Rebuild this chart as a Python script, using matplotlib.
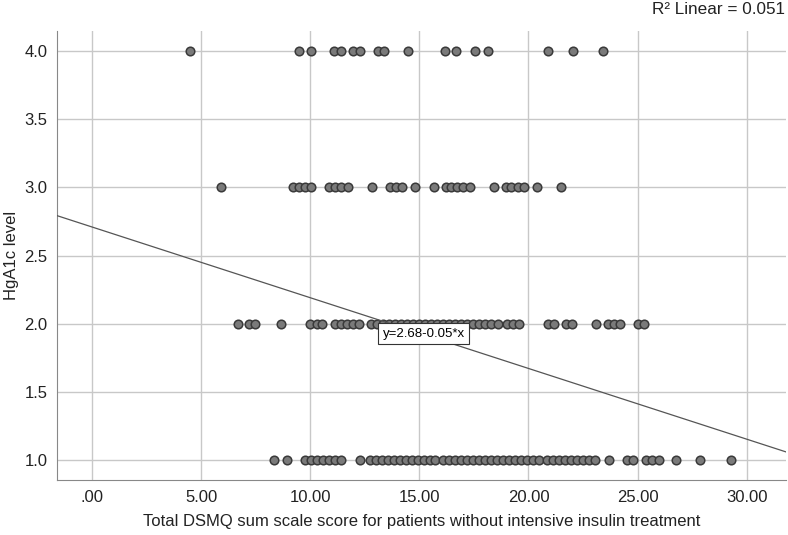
import numpy as np
import matplotlib.pyplot as plt

plt.rcParams['font.family'] = ['Liberation Sans', 'DejaVu Sans']

# DSMQ scores, per HgA1c level
x_lvl4 = [4.5, 9.5, 10.06, 11.1, 11.4, 11.97, 12.28, 13.12, 13.4, 14.5,
          16.18, 16.7, 17.57, 18.13, 20.9, 22.05, 23.4]
x_lvl3 = [5.9, 9.2, 9.5, 9.78, 10.06, 10.88, 11.16, 11.43, 11.71, 12.84,
          13.64, 13.94, 14.22, 14.8, 15.66, 16.2, 16.45, 16.73, 17.0, 17.3,
          18.4, 18.97, 19.2, 19.5, 19.8, 20.4, 21.5]
x_lvl2 = [6.68, 7.2, 7.48, 8.67, 10.01, 10.29, 10.56, 11.15, 11.42, 11.7,
          11.97, 12.25, 12.8, 13.08, 13.35, 13.63, 13.9, 14.18, 14.45, 14.73,
          15.0, 15.28, 15.55, 15.83, 16.1, 16.38, 16.65, 16.93, 17.2, 17.48,
          17.75, 18.03, 18.3, 18.6, 19.0, 19.3, 19.55, 20.9, 21.18, 21.73,
          22.0, 23.1, 23.66, 23.93, 24.2, 25.03, 25.3]
x_lvl1 = [8.36, 8.96, 9.77, 10.05, 10.32, 10.6, 10.88, 11.15, 11.43, 12.26,
          12.72, 13.0, 13.27, 13.55, 13.82, 14.1, 14.37, 14.65, 14.92, 15.2,
          15.47, 15.73, 16.1, 16.38, 16.65, 16.93, 17.2, 17.48, 17.75, 18.03,
          18.3, 18.58, 18.85, 19.13, 19.4, 19.68, 19.95, 20.23, 20.5, 20.86,
          21.14, 21.41, 21.69, 21.96, 22.24, 22.51, 22.79, 23.06, 23.7, 24.5,
          24.8, 25.37, 25.67, 25.98, 26.78, 27.86, 29.27]
levels = [4.0, 3.0, 2.0, 1.0]

# fit line as drawn, and its label
fit_b0 = 2.71
fit_b1 = -0.052
fit_label = 'y=2.68-0.05*x'
r2_label = 'R² Linear = 0.051'

x_ticks = [0, 5, 10, 15, 20, 25, 30]
y_ticks = [1.0, 1.5, 2.0, 2.5, 3.0, 3.5, 4.0]

fig = plt.figure(figsize=(7.88, 5.35), dpi=100)
ax = fig.add_axes([0.0723, 0.1028, 0.9252, 0.8392])

grid_col = '#c8c8c8'
for xs, lv in zip([x_lvl4, x_lvl3, x_lvl2, x_lvl1], levels):
    ax.scatter(xs, [lv] * len(xs), s=38, facecolor='#7a7a7a',
               edgecolor='#3a3a3a', linewidth=1.1, zorder=3)

xmin, xmax = -1.6, 31.8
xl = np.array([xmin, xmax])
ax.plot(xl, fit_b0 + fit_b1 * xl, color='#555555', linewidth=0.9, zorder=4)

ax.text(15.2, 1.925, fit_label, ha='center', va='center', fontsize=9.5,
        bbox=dict(boxstyle='square,pad=0.35', facecolor='white',
                  edgecolor='#333333', linewidth=0.8), zorder=5)

ax.set_xlim(xmin, xmax)
ax.set_ylim(0.85, 4.15)
ax.set_xticks(x_ticks)
ax.set_xticklabels(['.00' if v == 0 else f'{v:.2f}' for v in x_ticks])
ax.set_yticks(y_ticks)
ax.set_yticklabels([f'{v:.1f}' for v in y_ticks])
ax.tick_params(length=0, labelsize=12, colors='#222222', pad=7)
ax.grid(True, color=grid_col, linewidth=1.0, zorder=0)
ax.set_axisbelow(True)

for side in ['top', 'right']:
    ax.spines[side].set_visible(False)
for side in ['left', 'bottom']:
    ax.spines[side].set_color('#888888')

ax.set_xlabel('Total DSMQ sum scale score for patients without intensive insulin treatment',
              fontsize=12, color='#222222', labelpad=7)
ax.set_ylabel('HgA1c level', fontsize=12, color='#222222', labelpad=4)

fig.text(0.996, 0.982, r2_label, ha='right', va='center', fontsize=12.3,
         color='#222222')

plt.savefig('out.png', dpi=100)
